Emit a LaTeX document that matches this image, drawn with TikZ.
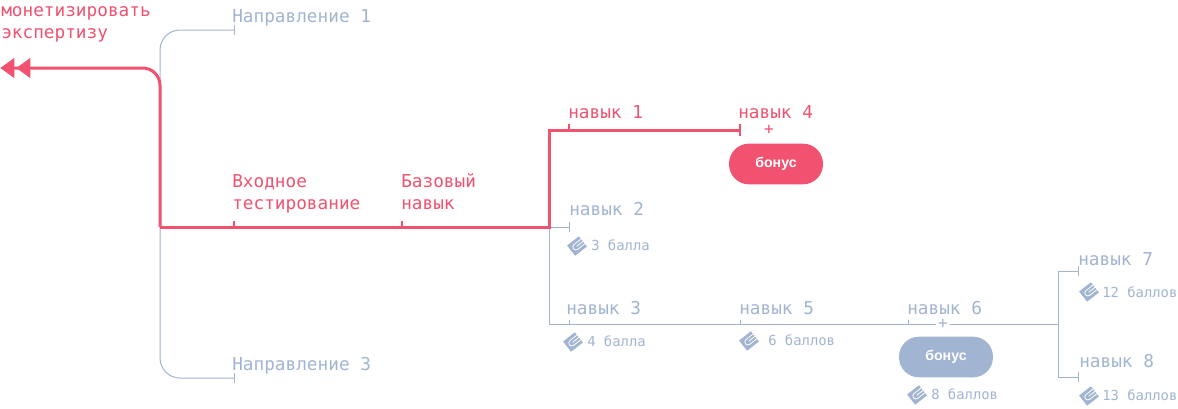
\documentclass[tikz,border=0pt]{standalone}
\usepackage{fontspec}
\setmainfont{DejaVu Sans Mono}
\newfontfamily\pillfont{Liberation Sans}
\usetikzlibrary{
    arrows.meta,
    positioning
}
\definecolor{rosered}{HTML}{F0526F}
\definecolor{steelblue}{HTML}{A1B4D1}
\tikzset{
    skill/.style={anchor=base west, inner sep=0pt, align=left, font=\fontsize{13.3pt}{16.5pt}\selectfont},
    skill-on/.style={skill, text=rosered},
    skill-off/.style={skill, text=steelblue},
    points/.style={anchor=base west, inner sep=0pt, text=steelblue, font=\fontsize{10.4pt}{12pt}\selectfont},
    bonus/.style={rectangle, rounded corners=15pt, minimum width=70.5pt, minimum height=30.5pt, inner sep=0pt, text=white, font=\pillfont\bfseries\fontsize{10.6pt}{11pt}\selectfont},
    plus/.style={inner sep=0pt, font=\fontsize{12pt}{12pt}\selectfont},
    path-on/.style={draw=rosered, line width=2.25pt},
    path-off/.style={draw=steelblue, line width=0.75pt},
    coin/.pic={
        \fill[steelblue, rotate=38] (-7.5,-6.5) rectangle (7.5,6.5);
        \draw[white, line width=0.6pt, rotate=38] (7.5,-3) -- (-1.5,-3) arc [start angle=270, end angle=90, radius=3] -- (7.5,3);
        \draw[white, line width=0.6pt, rotate=38] (7.5,0) -- (-0.5,0);
    }
}

\begin{document}
\begin{tikzpicture}[x=0.75pt, y=-0.75pt]

    \useasboundingbox (0, 0) rectangle (1178, 408);

    \coordinate (exit) at (-0.5, 68);
    \coordinate (trunk-top) at (160, 30);
    \coordinate (trunk-bot) at (160, 378);
    \coordinate (trunk-mid) at (160, 227);
    \coordinate (dir-1) at (234, 30);
    \coordinate (dir-3) at (234, 378);
    \coordinate (entry) at (234, 227);
    \coordinate (base) at (402, 227);
    \coordinate (fork) at (549, 227);
    \coordinate (fork-top) at (549, 130);
    \coordinate (fork-bot) at (549, 324);
    \coordinate (skill-1) at (569, 130);
    \coordinate (skill-2) at (569, 227);
    \coordinate (skill-3) at (569, 324);
    \coordinate (skill-4) at (740, 130);
    \coordinate (skill-5) at (740, 324);
    \coordinate (skill-6) at (908, 324);
    \coordinate (split) at (1058, 324);
    \coordinate (split-top) at (1058, 271);
    \coordinate (split-bot) at (1058, 377);
    \coordinate (skill-7) at (1078, 271);
    \coordinate (skill-8) at (1078, 377);

    % grey branches first, red goes over them
    \draw[path-off, rounded corners=15pt] (dir-1) -- (trunk-top) -- (trunk-bot) -- (dir-3);
    \draw[path-off] (fork-top) -- (fork-bot) -- (split);
    \draw[path-off] (fork) -- (skill-2);
    \draw[path-off] (skill-7) -- (split-top) -- (split-bot) -- (skill-8);

    \foreach \tk in {dir-1, dir-3, skill-2, skill-7, skill-8} {
        \draw[path-off] ([yshift=-3.5pt]\tk) -- ([yshift=3.5pt]\tk);
    }
    \foreach \tk in {skill-3, skill-5, skill-6} {
        \draw[path-off] (\tk) -- ([yshift=3pt]\tk);
    }

    \draw[path-on, rounded corners=13pt, {Triangle[length=10.5pt, width=14.5pt, sep=0.6pt]Triangle[length=10.5pt, width=14.5pt, sep=1.5pt]}-] (exit) -- (160, 68) -- (trunk-mid);
    \draw[path-on] (trunk-mid) -- (fork) -- (fork-top) -- (skill-4);
    \foreach \tk in {entry, base, skill-1} {
        \draw[draw=rosered, line width=1.8pt] (\tk) -- ([yshift=4.5pt]\tk);
    }
    \draw[draw=rosered, line width=1.8pt] ([yshift=-4.5pt]skill-4) -- ([yshift=4.5pt]skill-4);

    \node[skill-on] (goal) at (1, 38) {монетизировать\\экспертизу};
    \node[skill-off] (dir-1-text) at (232, 22) {Направление 1};
    \node[skill-off] (dir-3-text) at (232, 370) {Направление 3};
    \node[skill-on] (entry-text) at (232, 209) {Входное\\тестирование};
    \node[skill-on] (base-text) at (401, 209) {Базовый\\навык};

    \node[skill-on] (skill-1-text) at (568, 118) {навык 1};
    \node[skill-on] (skill-4-text) at (738, 118) {навык 4};
    \node[skill-off] (skill-2-text) at (569, 215) {навык 2};
    \node[skill-off] (skill-3-text) at (566, 314) {навык 3};
    \node[skill-off] (skill-5-text) at (739, 314) {навык 5};
    \node[skill-off] (skill-6-text) at (907, 314) {навык 6};
    \node[skill-off] (skill-7-text) at (1078, 265) {навык 7};
    \node[skill-off] (skill-8-text) at (1079, 367) {навык 8};

    \node[plus, text=rosered] (plus-on) at (769, 130) {+};
    \node[plus, text=steelblue, fill=white, inner xsep=1.5pt] (plus-off) at (943, 324) {+};

    \node[bonus, fill=rosered] (bonus-on) at (776, 164) {бонус};
    \node[bonus, fill=steelblue] (bonus-off) at (946, 357) {бонус};

    \pic at (577, 246) {coin};
    \pic at (573, 342) {coin};
    \pic at (749, 341) {coin};
    \pic at (917, 395) {coin};
    \pic at (1089, 292) {coin};
    \pic at (1089, 396) {coin};

    \node[points] (pts-2) at (591, 250) {3 балла};
    \node[points] (pts-3) at (587, 346) {4 балла};
    \node[points] (pts-5) at (768, 345) {6 баллов};
    \node[points] (pts-6) at (931, 399) {8 баллов};
    \node[points] (pts-7) at (1102, 297) {12 баллов};
    \node[points] (pts-8) at (1102, 400) {13 баллов};

\end{tikzpicture}
\end{document}
